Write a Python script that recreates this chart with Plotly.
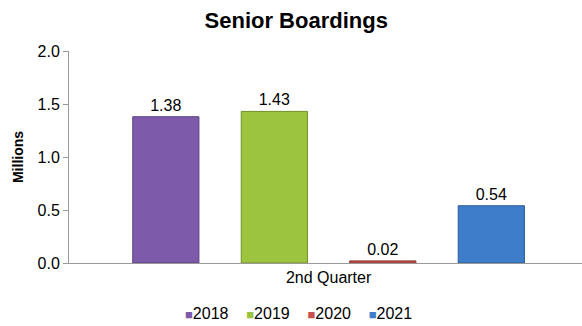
import plotly.graph_objects as go

categories = ["2nd Quarter"]
years = ["2018", "2019", "2020", "2021"]
boardings = [1.38, 1.43, 0.02, 0.54]
fill_colors = ["#7E5BAA", "#9CC43E", "#C9504E", "#3E7DCA"]
edge_colors = ["#5C3F82", "#6F8F26", "#8E3432", "#2A5A95"]
y_ticks = [0.0, 0.5, 1.0, 1.5, 2.0]

font_family = "Liberation Sans, Arial, sans-serif"

fig = go.Figure()
for year, val, fc, ec in zip(years, boardings, fill_colors, edge_colors):
    fig.add_trace(go.Bar(
        name=year,
        x=categories,
        y=[val],
        marker=dict(color=fc, line=dict(color=ec, width=1)),
        text=[f"{val:.2f}"],
        textposition="outside",
        textfont=dict(size=16, color="#000000"),
        cliponaxis=False,
        showlegend=False,
    ))

# Compact legend row: small coloured squares followed by the year
legend_parts = [
    f"<span style='color:{fc};font-size:13px'>■</span>{year}"
    for year, fc in zip(years, fill_colors)
]
fig.add_annotation(
    text="&nbsp;&nbsp;&nbsp;&nbsp;".join(legend_parts),
    xref="paper", yref="paper",
    x=0.448, y=-0.236,
    xanchor="center", yanchor="middle",
    showarrow=False,
    font=dict(size=16, family=font_family, color="#000000"),
)

fig.update_layout(
    width=582,
    height=326,
    margin=dict(l=69, r=0, t=51, b=63),
    paper_bgcolor="white",
    plot_bgcolor="white",
    font=dict(family=font_family, size=16, color="#000000"),
    barmode="group",
    bargap=0.154,
    bargroupgap=0.39,
    showlegend=False,
    title=dict(
        text="<b>Senior Boardings</b>",
        x=0.509,
        xanchor="center",
        y=0.939,
        yanchor="middle",
        font=dict(size=22, family=font_family),
    ),
)

fig.update_xaxes(
    range=[-0.506, 0.494],
    showline=True,
    linecolor="#9A9A9A",
    linewidth=1,
    ticks="",
    tickfont=dict(size=16),
    showgrid=False,
)
fig.update_yaxes(
    range=[0, 2.0],
    tickvals=y_ticks,
    ticktext=[f"{t:.1f}" for t in y_ticks],
    showline=True,
    linecolor="#9A9A9A",
    linewidth=1,
    ticks="outside",
    ticklen=5,
    tickcolor="#9A9A9A",
    tickfont=dict(size=16),
    showgrid=False,
    zeroline=False,
    title=dict(text="<b>Millions</b>", font=dict(size=14), standoff=10),
)

fig.write_html("out.html")
